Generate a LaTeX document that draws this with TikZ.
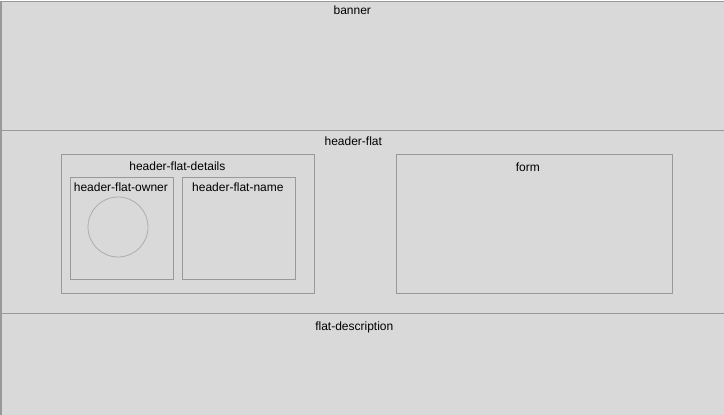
\documentclass[tikz,border=0pt]{standalone}
\usepackage{fontspec}
\setmainfont{Liberation Sans}
\usetikzlibrary{positioning}
\definecolor{panelfill}{HTML}{D9D9D9}
\definecolor{panelline}{HTML}{999999}
\tikzset{
  panel/.style={
    rectangle,
    draw=panelline,
    fill=panelfill,
    line width=1.6pt,
    anchor=north west,
    inner sep=0pt
  },
  region/.style={
    rectangle,
    draw=panelline,
    line width=0.8pt,
    anchor=north west,
    inner sep=0pt
  },
  avatar/.style={
    circle,
    draw=panelline!80,
    line width=0.8pt,
    minimum size=60pt,
    inner sep=0pt
  },
  caption/.style={
    inner sep=0pt,
    text height=9pt,
    text depth=3pt,
    font=\fontsize{12}{14}\selectfont
  }
}

\begin{document}
\begin{tikzpicture}[x=1pt, y=-1pt]
  \useasboundingbox (0,0) rectangle (724,415);

  % page sections
  \node[panel, minimum width=723pt, minimum height=129pt] (banner) at (0.5,0.5) {};
  \node[panel, minimum width=723pt, minimum height=183pt] (headerflat) at (0.5,129.5) {};
  \node[panel, minimum width=723pt, minimum height=102pt] (description) at (0.5,312.5) {};

  % inside header-flat
  \node[region, minimum width=253pt, minimum height=139pt] (details) at (61,154) {};
  \node[region, minimum width=103pt, minimum height=102pt] (owner) at (70,177) {};
  \node[region, minimum width=113pt, minimum height=102pt] (flatname) at (182,177) {};
  \node[region, minimum width=276pt, minimum height=139pt] (form) at (396,154) {};
  \node[avatar] (photo) at (118,227) {};

  % labels
  \node[caption, below=5pt of banner.north, xshift=-10.5pt] (bannerlbl) {banner};
  \node[caption, below=7pt of headerflat.north, xshift=-9.5pt] (headerflatlbl) {header-flat};
  \node[caption, below=7.5pt of details.north, xshift=-10.5pt] (detailslbl) {header-flat-details};
  \node[caption, below=5.5pt of owner.north, xshift=-1pt] (ownerlbl) {header-flat-owner};
  \node[caption, below=5.5pt of flatname.north, xshift=-1pt] (flatnamelbl) {header-flat-name};
  \node[caption, below=8.5pt of form.north, xshift=-6.5pt] (formlbl) {form};
  \node[caption, below=9pt of description.north, xshift=-8.5pt] (descriptionlbl) {flat-description};
\end{tikzpicture}
\end{document}
